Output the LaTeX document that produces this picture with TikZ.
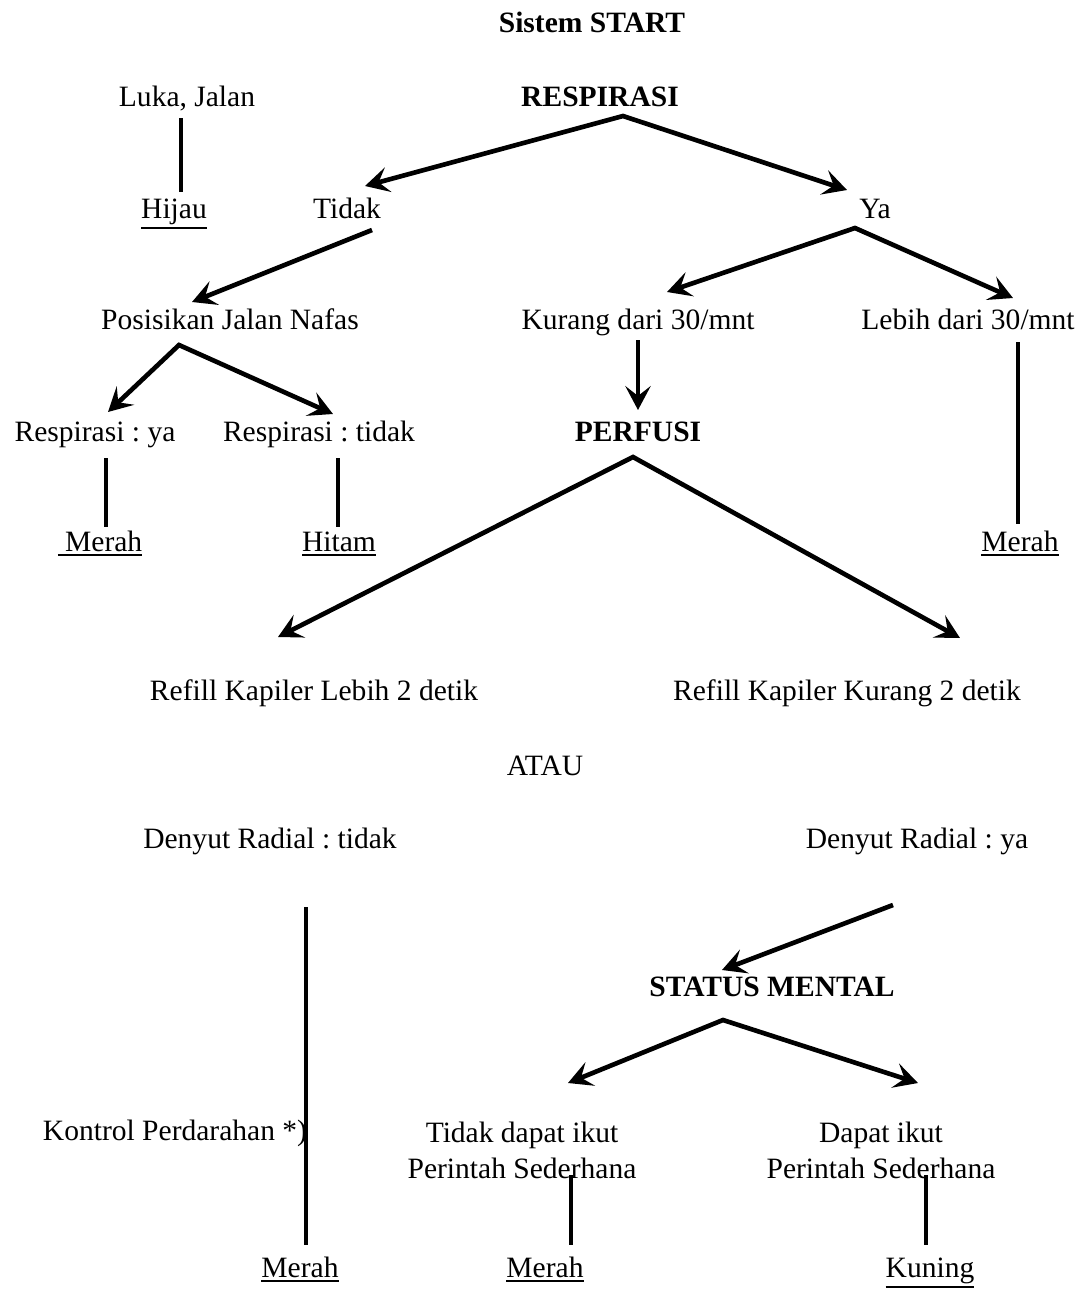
\documentclass[tikz,border=0pt]{standalone}
\usepackage{fontspec}
\setmainfont{Liberation Serif}
\usetikzlibrary{arrows.meta}
\frenchspacing
\newcommand{\garis}[1]{\leavevmode\vtop{\hbox{#1}\kern2.2pt\hrule height 1.4pt}}

\begin{document}
\begin{tikzpicture}[x=0.025cm, y=-0.025cm, >={Stealth[length=17pt, width=18pt, inset=7pt]},
    line width=3.3pt,
    lbl/.style={anchor=base, inner sep=0pt, font=\fontsize{21}{25.6}\selectfont},
    hd/.style={lbl, font=\fontsize{21}{25.6}\selectfont\bfseries},
    two/.style={anchor=center, inner sep=0pt, align=center, font=\fontsize{21}{25.6}\selectfont}]

    \useasboundingbox (0,0) rectangle (1083,1291);

    % Title
    \node[hd] (title) at (592,32) {Sistem START};

    % Respirasi
    \node[lbl] (luka) at (187,106) {Luka, Jalan};
    \node[hd] (resp) at (600,106) {RESPIRASI};
    \node[lbl] (hijau) at (174,218) {\garis{Hijau}};
    \node[lbl] (tidak) at (347,218) {Tidak};
    \node[lbl] (ya) at (875,218) {Ya};
    \node[lbl] (posisi) at (230,329) {Posisikan Jalan Nafas};
    \node[lbl] (kurang) at (638,329) {Kurang dari 30/mnt};
    \node[lbl] (lebih) at (968,329) {Lebih dari 30/mnt};
    \node[lbl] (respya) at (95,441) {Respirasi : ya};
    \node[lbl] (resptdk) at (319,441) {Respirasi : tidak};
    \node[hd] (perfusi) at (638,441) {PERFUSI};
    \node[lbl] (merahA) at (100,551) {\garis{~Merah}};
    \node[lbl] (hitam) at (339,551) {\garis{Hitam}};
    \node[lbl] (merahB) at (1020,551) {\garis{Merah}};

    % Perfusi
    \node[lbl] (refillL) at (314,700) {Refill Kapiler Lebih 2 detik};
    \node[lbl] (refillK) at (847,700) {Refill Kapiler Kurang 2 detik};
    \node[lbl] (atau) at (545,775) {ATAU};
    \node[lbl] (radtdk) at (270,848) {Denyut Radial : tidak};
    \node[lbl] (radya) at (917,848) {Denyut Radial : ya};

    % Status mental
    \node[hd] (status) at (772,996) {STATUS MENTAL};
    \node[lbl] (kontrol) at (175,1140) {Kontrol Perdarahan *)};
    \node[two] (tdkikut) at (522,1150) {Tidak dapat ikut\\Perintah Sederhana};
    \node[two] (ikut) at (881,1150) {Dapat ikut\\Perintah Sederhana};
    \node[lbl] (merahC) at (300,1277) {\garis{Merah}};
    \node[lbl] (merahD) at (545,1277) {\garis{Merah}};
    \node[lbl] (kuning) at (930,1277) {\garis{Kuning}};

    % Connector ends
    \coordinate (luka-e) at (181,118);   \coordinate (hijau-e) at (181,192);
    \coordinate (resp-e) at (623,116);
    \coordinate (tidak-t) at (365,186);  \coordinate (ya-t) at (847,190);
    \coordinate (tidak-e) at (372,230);  \coordinate (posisi-t) at (192,302);
    \coordinate (ya-e) at (855,228);
    \coordinate (kurang-t) at (667,292); \coordinate (lebih-t) at (1013,298);
    \coordinate (posisi-e) at (179,345);
    \coordinate (respya-t) at (108,412); \coordinate (resptdk-t) at (333,414);
    \coordinate (kurang-e) at (638,340); \coordinate (perfusi-t) at (638,410);
    \coordinate (perfusi-e) at (633,457);
    \coordinate (refillL-t) at (278,637); \coordinate (refillK-t) at (960,638);
    \coordinate (radya-e) at (893,905);  \coordinate (status-t) at (722,970);
    \coordinate (status-e) at (723,1020);
    \coordinate (tdkikut-t) at (568,1083); \coordinate (ikut-t) at (918,1083);

    % Arrows
    \draw[<->] (tidak-t) -- (resp-e) -- (ya-t);
    \draw[->] (tidak-e) -- (posisi-t);
    \draw[<->] (kurang-t) -- (ya-e) -- (lebih-t);
    \draw[<->] (respya-t) -- (posisi-e) -- (resptdk-t);
    \draw[->] (kurang-e) -- (perfusi-t);
    \draw[<->] (refillL-t) -- (perfusi-e) -- (refillK-t);
    \draw[->] (radya-e) -- (status-t);
    \draw[<->] (tdkikut-t) -- (status-e) -- (ikut-t);

    % Plain lines
    \draw (luka-e) -- (hijau-e);
    \foreach \x/\ya/\yb in {1018/342/524, 106/458/527, 338/458/527, 306/907/1245, 571/1175/1245, 926/1175/1245}
    \draw (\x,\ya) -- (\x,\yb);

\end{tikzpicture}
\end{document}
